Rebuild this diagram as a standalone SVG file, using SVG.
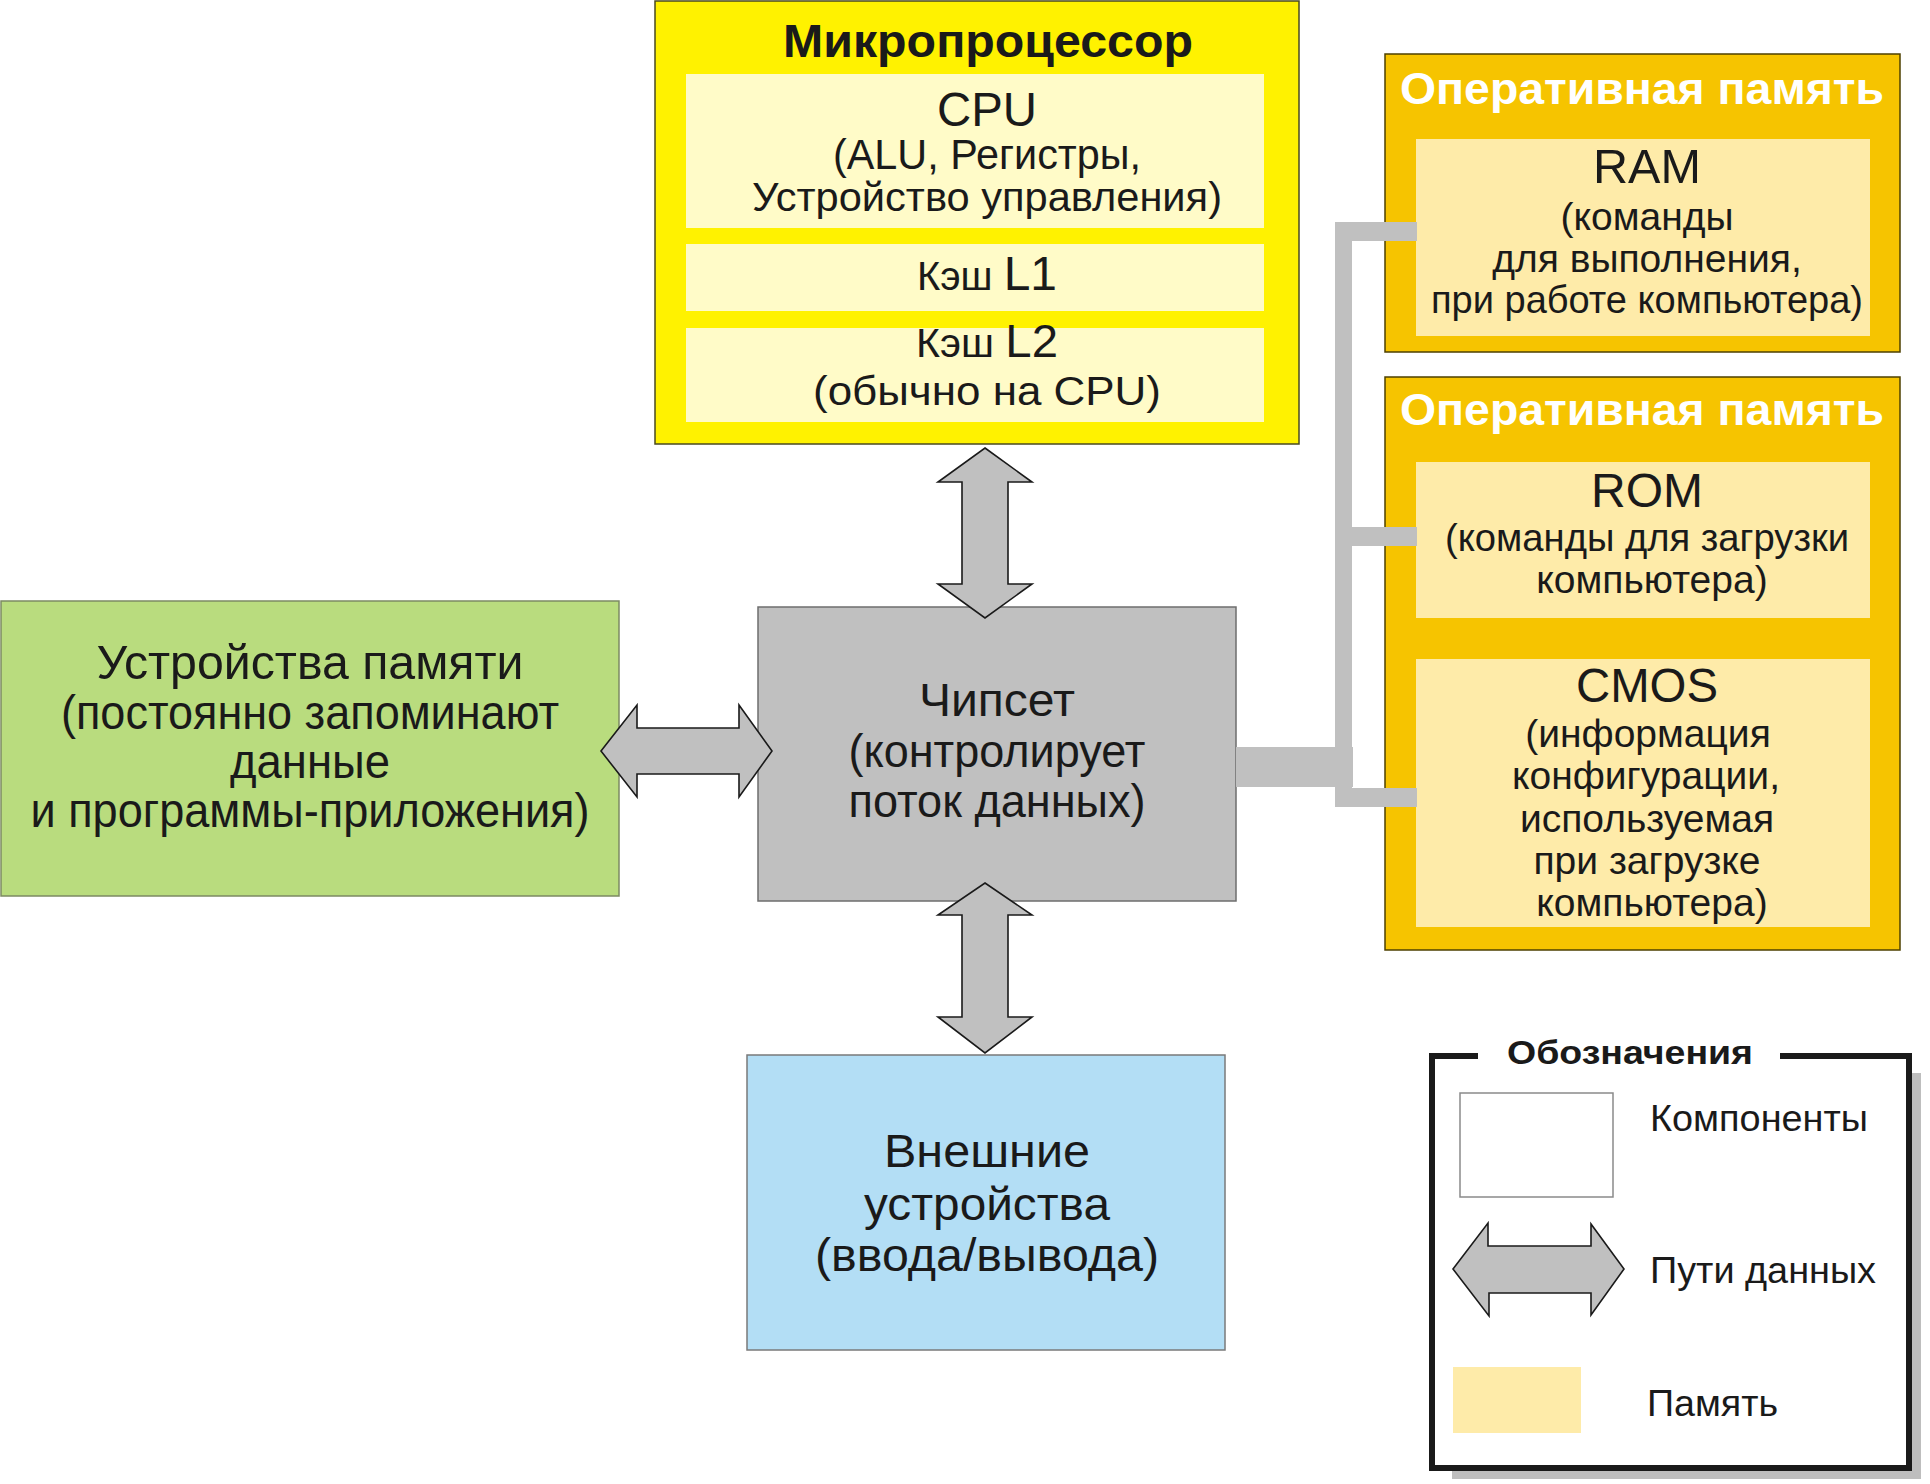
<svg xmlns="http://www.w3.org/2000/svg" width="1930" height="1484" viewBox="0 0 1930 1484">
<style>
  text { font-family: "Liberation Sans", Arial, sans-serif; fill: #1a1a1a; text-anchor: middle; }
  .b { font-weight: bold; }
  .w { fill: #ffffff; }
  .start { text-anchor: start; }
  .arrow { fill: #c0c0c0; stroke: #1a1a1a; stroke-width: 1.6; stroke-linejoin: miter; }
  .bus { fill: #c0c0c0; }
  .cpuin { fill: #fffbc8; }
  .mem { fill: #feeba9; }
  .ramout { fill: #f6c400; stroke: #4d4000; stroke-width: 1.5; }
  .f48 { font-size: 48px; }
  .f39 { font-size: 39px; }
  .f47 { font-size: 47px; }
  .f37 { font-size: 37px; }
</style>
<rect x="0" y="0" width="1930" height="1484" fill="#ffffff"/>

<g id="microprocessor">
  <rect x="655" y="1" width="644" height="443" fill="#fff200" stroke="#4a4a20" stroke-width="1.5"/>
  <text class="b" x="988" y="57" font-size="46" textLength="410" lengthAdjust="spacingAndGlyphs">Микропроцессор</text>
  <rect class="cpuin" x="686" y="74" width="578" height="154"/>
  <text x="987" y="126" font-size="48" textLength="100" lengthAdjust="spacingAndGlyphs">CPU</text>
  <text x="987" y="169" font-size="42" textLength="308" lengthAdjust="spacingAndGlyphs">(ALU, Регистры,</text>
  <text x="987" y="211" font-size="41" textLength="470" lengthAdjust="spacingAndGlyphs">Устройство управления)</text>
  <rect class="cpuin" x="686" y="244" width="578" height="67"/>
  <text x="987" y="290" textLength="140" lengthAdjust="spacingAndGlyphs"><tspan font-size="40">Кэш </tspan><tspan font-size="48">L1</tspan></text>
  <rect class="cpuin" x="686" y="328" width="578" height="94"/>
  <text x="987" y="357" textLength="142" lengthAdjust="spacingAndGlyphs"><tspan font-size="40">Кэш </tspan><tspan font-size="46">L2</tspan></text>
  <text x="987" y="405" font-size="41" textLength="348" lengthAdjust="spacingAndGlyphs">(обычно на CPU)</text>
</g>

<g id="ram">
  <rect class="ramout" x="1385" y="54" width="515" height="298"/>
  <text class="b w" x="1642" y="104" font-size="45" textLength="484" lengthAdjust="spacingAndGlyphs">Оперативная память</text>
  <rect class="mem" x="1416" y="139" width="454" height="197"/>
  <text class="f48" x="1647" y="183" textLength="108" lengthAdjust="spacingAndGlyphs">RAM</text>
  <text class="f39" x="1647" y="230">(команды</text>
  <text class="f39" x="1647" y="272">для выполнения,</text>
  <text class="f39" x="1647" y="313" textLength="432" lengthAdjust="spacingAndGlyphs">при работе компьютера)</text>
</g>

<g id="rom-cmos">
  <rect class="ramout" x="1385" y="377" width="515" height="573"/>
  <text class="b w" x="1642" y="425" font-size="45" textLength="484" lengthAdjust="spacingAndGlyphs">Оперативная память</text>
  <g id="rom">
    <rect class="mem" x="1416" y="462" width="454" height="156"/>
    <text class="f48" x="1647" y="507" textLength="112" lengthAdjust="spacingAndGlyphs">ROM</text>
    <text class="f39" x="1647" y="551" textLength="404" lengthAdjust="spacingAndGlyphs">(команды для загрузки</text>
    <text class="f39" x="1652" y="593">компьютера)</text>
  </g>
  <g id="cmos">
    <rect class="mem" x="1416" y="659" width="454" height="268"/>
    <text class="f48" x="1647" y="702" textLength="142" lengthAdjust="spacingAndGlyphs">CMOS</text>
    <text class="f39" x="1648" y="747">(информация</text>
    <text class="f39" x="1646" y="789">конфигурации,</text>
    <text class="f39" x="1647" y="832">используемая</text>
    <text class="f39" x="1647" y="874">при загрузке</text>
    <text class="f39" x="1652" y="916">компьютера)</text>
  </g>
</g>

<g id="storage">
  <rect x="1" y="601" width="618" height="295" fill="#b9dc7e" stroke="#7c8a63" stroke-width="1.5"/>
  <text x="310" y="679" font-size="48" textLength="427" lengthAdjust="spacingAndGlyphs">Устройства памяти</text>
  <text x="310" y="729" font-size="48" textLength="498" lengthAdjust="spacingAndGlyphs">(постоянно запоминают</text>
  <text x="310" y="778" font-size="48" textLength="160" lengthAdjust="spacingAndGlyphs">данные</text>
  <text x="310" y="827" font-size="48" textLength="559" lengthAdjust="spacingAndGlyphs">и программы-приложения)</text>
</g>

<g id="chipset">
  <rect x="758" y="607" width="478" height="294" fill="#c0c0c0" stroke="#6e6e6e" stroke-width="1.5"/>
  <text x="997" y="716" font-size="47" textLength="156" lengthAdjust="spacingAndGlyphs">Чипсет</text>
  <text x="997" y="767" font-size="47" textLength="297" lengthAdjust="spacingAndGlyphs">(контролирует</text>
  <text x="997" y="817" font-size="47" textLength="297" lengthAdjust="spacingAndGlyphs">поток данных)</text>
</g>

<g id="io-devices">
  <rect x="747" y="1055" width="478" height="295" fill="#b3def5" stroke="#7a7a7a" stroke-width="1.5"/>
  <text class="f47" x="987" y="1167" textLength="206" lengthAdjust="spacingAndGlyphs">Внешние</text>
  <text class="f47" x="987" y="1220" textLength="246" lengthAdjust="spacingAndGlyphs">устройства</text>
  <text class="f47" x="987" y="1271" textLength="344" lengthAdjust="spacingAndGlyphs">(ввода/вывода)</text>
</g>

<g id="legend">
  <rect x="1452" y="1073" width="469" height="406" fill="#bebebe"/>
  <rect x="1432" y="1056" width="477" height="412" fill="#ffffff"/>
  <path d="M1478,1056 H1432 V1468 H1909 V1056 H1780" fill="none" stroke="#1a1a1a" stroke-width="6"/>
  <text class="b" x="1630" y="1064" font-size="34" textLength="246" lengthAdjust="spacingAndGlyphs">Обозначения</text>
  <rect x="1460" y="1093" width="153" height="104" fill="#ffffff" stroke="#8a8a8a" stroke-width="1.5"/>
  <text class="f37 start" x="1650" y="1131" textLength="218" lengthAdjust="spacingAndGlyphs">Компоненты</text>
  <polygon class="arrow" points="1453,1269 1488,1223 1488,1246 1591,1246 1591,1224 1624,1269 1591,1315 1591,1293 1489,1293 1489,1316"/>
  <text class="f37 start" x="1650" y="1283" textLength="226" lengthAdjust="spacingAndGlyphs">Пути данных</text>
  <rect class="mem" x="1453" y="1367" width="128" height="66"/>
  <text class="f37 start" x="1647" y="1416" textLength="131" lengthAdjust="spacingAndGlyphs">Память</text>
</g>

<g id="connectors">
  <rect class="bus" x="1236" y="747" width="117" height="40"/>
  <rect class="bus" x="1335" y="222" width="17" height="585"/>
  <rect class="bus" x="1335" y="222" width="82" height="19"/>
  <rect class="bus" x="1335" y="527" width="82" height="19"/>
  <rect class="bus" x="1335" y="788" width="82" height="19"/>
  <polygon class="arrow" points="985,448 1032,482 1008,482 1008,584 1032,584 985,618 938,584 962,584 962,482 938,482"/>
  <polygon class="arrow" points="985,883 1032,915 1008,915 1008,1017 1032,1017 985,1053 938,1017 962,1017 962,915 938,915"/>
  <polygon class="arrow" points="601,751 637,705 637,728 739,728 739,705 772,751 739,797 739,774 637,774 637,797"/>
</g>
</svg>
